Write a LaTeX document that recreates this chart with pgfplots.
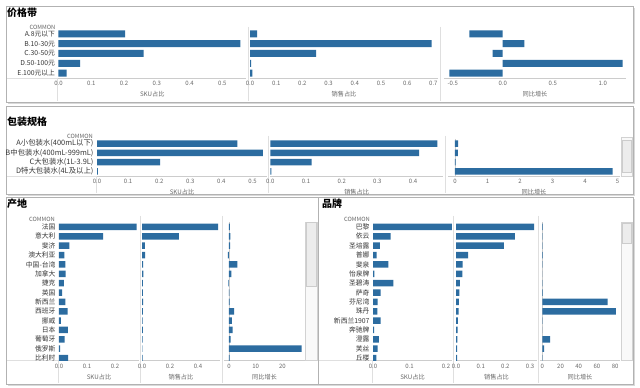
\documentclass[border=0pt]{standalone}
\usepackage{fontspec}
\setmainfont{Noto Sans CJK SC}
\usepackage{pgfplots}
\pgfplotsset{compat=1.18}
\definecolor{barc}{RGB}{44,108,160}
\definecolor{tk}{RGB}{105,105,105}
\definecolor{lab}{RGB}{55,55,55}
\pgfplotsset{
  dash/.style={
    scale only axis, anchor=south west, y dir=reverse, ymin=-0.5,
    axis x line*=bottom, axis y line*=left,
    x axis line style={draw=gray!40, line width=0.5pt},
    y axis line style={draw=none},
    tick style={draw=none},
    xticklabel style={font=\fontsize{6}{6}\selectfont, text=tk},
    yticklabel style={font=\fontsize{6.8}{7}\selectfont, text=lab},
    xlabel style={font=\fontsize{6.2}{7}\selectfont, text=tk, yshift=1.5pt},
    /pgf/number format/assume math mode=true,
    ytick=\empty,
  },
  dec/.style={xticklabel style={/pgf/number format/fixed, /pgf/number format/fixed zerofill, /pgf/number format/precision=1}},
  bb/.style={xbar, fill=barc, draw=none, bar width=#1},
}
\begin{document}
\begin{tikzpicture}
\begin{scope}[x=1pt,y=1pt]
\path[use as bounding box] (0,0) rectangle (640,388);
\fill[white] (0,0) rectangle (640,388);
% frames
\fill[gray!30] (8,{388-104}) rectangle (635,{388-8});
\draw[gray!60, fill=white] (6,{388-102}) rectangle (633,{388-6});
\fill[gray!30] (8,{388-196}) rectangle (635,{388-108});
\draw[gray!60, fill=white] (6,{388-194}) rectangle (633,{388-106});
\fill[gray!30] (8,{388-386}) rectangle (320,{388-199});
\draw[gray!60, fill=white] (6,{388-384}) rectangle (318,{388-197});
\fill[gray!30] (320,{388-386}) rectangle (635,{388-199});
\draw[gray!60, fill=white] (318,{388-384}) rectangle (633,{388-197});
% titles
\node[anchor=west, inner sep=0, font=\bfseries\fontsize{10}{10}\selectfont] at (7,{388-13}) {价格带};
\node[anchor=west, inner sep=0, font=\bfseries\fontsize{10}{10}\selectfont] at (7,{388-122}) {包装规格};
\node[anchor=west, inner sep=0, font=\bfseries\fontsize{10}{10}\selectfont] at (7,{388-204}) {产地};
\node[anchor=west, inner sep=0, font=\bfseries\fontsize{10}{10}\selectfont] at (322,{388-204}) {品牌};
% COMMON headers
\node[anchor=east, inner sep=0, font=\fontsize{5.8}{6}\selectfont, text=tk] at (55.5,{388-27.3}) {COMMON};
\node[anchor=east, inner sep=0, font=\fontsize{5.8}{6}\selectfont, text=tk] at (93,{388-136.7}) {COMMON};
\node[anchor=east, inner sep=0, font=\fontsize{5.8}{6}\selectfont, text=tk] at (55,{388-219}) {COMMON};
\node[anchor=east, inner sep=0, font=\fontsize{5.8}{6}\selectfont, text=tk] at (370,{388-219}) {COMMON};
% separators
\begin{scope}[gray!25, line width=0.5pt]
\draw (248,{388-27}) -- (248,{388-101});
\draw (440,{388-27}) -- (440,{388-101});
\draw (57.5,{388-78}) -- (57.5,{388-101});
\draw (7,{388-78}) -- (58.5,{388-78});
\draw (268.5,{388-136}) -- (268.5,{388-193});
\draw (445.5,{388-136}) -- (445.5,{388-193});
\draw (96,{388-176.1}) -- (96,{388-193});
\draw (7,{388-176.1}) -- (97,{388-176.1});
\draw (140.5,{388-216}) -- (140.5,{388-383});
\draw (222.5,{388-216}) -- (222.5,{388-383});
\draw (58,{388-360.5}) -- (58,{388-383});
\draw (7,{388-360.5}) -- (59,{388-360.5});
\draw (453.5,{388-216}) -- (453.5,{388-383});
\draw (538.5,{388-216}) -- (538.5,{388-383});
\draw (372,{388-360.5}) -- (372,{388-383});
\draw (319,{388-360.5}) -- (373,{388-360.5});
\end{scope}
% scrollbars
\draw[gray!35, fill=gray!5] (621,{388-176}) rectangle (632,{388-137});
\draw[gray!40, fill=gray!15] (622,{388-172}) rectangle (631,{388-140});
\draw[gray!35, fill=gray!5] (305,{388-360}) rectangle (317,{388-222});
\draw[gray!40, fill=gray!15] (306,{388-286}) rectangle (316,{388-222});
\draw[gray!35, fill=gray!5] (621,{388-360}) rectangle (632,{388-222});
\draw[gray!40, fill=gray!15] (622,{388-243}) rectangle (631,{388-223});
\end{scope}

% ===== Panel 1: 价格带 =====
\begin{axis}[dash, dec, at={(58.5pt,310pt)}, width=187.5pt, height=49pt, xmin=0, xmax=0.572, ymax=4.5,
  xtick={0,0.1,0.2,0.3,0.4,0.5}, ytick={0,1,2,3,4},
  yticklabels={A.8元以下,B.10-30元,C.30-50元,D.50-100元,E.100元以上}, xlabel={SKU占比}]
\addplot[bb=7pt] coordinates {(0.203,0) (0.555,1) (0.26,2) (0.066,3) (0.025,4)};
\end{axis}
\begin{axis}[dash, dec, at={(250pt,310pt)}, width=188pt, height=49pt, xmin=0, xmax=0.7176, ymax=4.5,
  xtick={0,0.1,0.2,0.3,0.4,0.5,0.6,0.7}, xlabel={销售占比}]
\addplot[bb=7pt] coordinates {(0.027,0) (0.693,1) (0.252,2) (0.004,3) (0.009,4)};
\end{axis}
\begin{axis}[dash, dec, at={(444pt,310pt)}, width=182pt, height=49pt, xmin=-0.587, xmax=1.233, ymax=4.5,
  xtick={-0.5,0,0.5,1}, xlabel={同比增长}]
\addplot[bb=7pt] coordinates {(-0.334,0) (0.216,1) (-0.10,2) (1.20,3) (-0.534,4)};
\end{axis}

% ===== Panel 2: 包装规格 =====
\begin{axis}[dash, dec, at={(97pt,211.9pt)}, width=170pt, height=37.2pt, xmin=0, xmax=0.5466, ymax=3.5,
  xtick={0,0.1,0.2,0.3,0.4,0.5}, ytick={0,1,2,3},
  yticklabel style={font=\fontsize{7.4}{7.5}\selectfont},
  yticklabels={A小包装水(400mL以下),B中包装水(400mL-999mL),C大包装水(1L-3.9L),D特大包装水(4L及以上)}, xlabel={SKU占比}]
\addplot[bb=6.5pt] coordinates {(0.451,0) (0.533,1) (0.203,2) (0.003,3)};
\end{axis}
\begin{axis}[dash, dec, at={(270.3pt,211.9pt)}, width=172.7pt, height=37.2pt, xmin=0, xmax=0.4838, ymax=3.5,
  xtick={0,0.1,0.2,0.3,0.4}, xlabel={销售占比}]
\addplot[bb=6.5pt] coordinates {(0.468,0) (0.417,1) (0.116,2) (0.003,3)};
\end{axis}
\begin{axis}[dash, at={(448pt,211.9pt)}, width=172pt, height=37.2pt, xmin=-0.215, xmax=5.077, ymax=3.5,
  xtick={0,1,2,3,4,5}, xlabel={同比增长}]
\draw[gray!40] (axis cs:0,-0.5) -- (axis cs:0,3.5);
\addplot[bb=6.5pt] coordinates {(0.10,0) (0.09,1) (0.02,2) (4.85,3)};
\end{axis}

% ===== Panel 3: 产地 =====
\begin{axis}[dash, dec, at={(59pt,27.5pt)}, width=80pt, height=138.2pt, xmin=0, xmax=0.2857, ymax=14.26,
  xtick={0,0.1,0.2}, ytick={0,...,14},
  yticklabels={法国,意大利,斐济,澳大利亚,中国-台湾,加拿大,捷克,英国,新西兰,西班牙,挪威,日本,葡萄牙,俄罗斯,比利时}, xlabel={SKU占比}]
\addplot[bb=6.5pt] coordinates {(0.277,0) (0.158,1) (0.037,2) (0.019,3) (0.023,4) (0.024,5) (0.017,6) (0.011,7) (0.023,8) (0.031,9) (0.007,10) (0.032,11) (0.020,12) (0.004,13) (0.033,14)};
\end{axis}
\begin{axis}[dash, dec, at={(142pt,27.5pt)}, width=78pt, height=138.2pt, xmin=0, xmax=0.557, ymax=14.26,
  xtick={0,0.2,0.4}, xlabel={销售占比}]
\addplot[bb=6.5pt] coordinates {(0.543,0) (0.264,1) (0.020,2) (0.022,3) (0.008,4) (0.009,5) (0.007,6) (0.006,7) (0.008,8) (0.007,9) (0.005,10) (0.006,11) (0.004,12) (0.003,13) (0.005,14)};
\end{axis}
\begin{axis}[dash, at={(224pt,27.5pt)}, width=81pt, height=138.2pt, xmin=-1.87, xmax=28.46, ymax=14.26,
  xtick={0,10,20}, xlabel={同比增长}]
\draw[gray!40] (axis cs:0,-0.5) -- (axis cs:0,14.26);
\addplot[bb=6.5pt] coordinates {(0.3,0) (0.5,1) (0.4,2) (-0.4,3) (3.1,4) (0.9,5) (-0.2,6) (0.1,7) (0.2,8) (1.9,9) (1.1,10) (1.4,11) (0.6,12) (27.2,13) (0.2,14)};
\end{axis}

% ===== Panel 4: 品牌 =====
\begin{axis}[dash, dec, at={(373pt,27.5pt)}, width=79pt, height=138.2pt, xmin=0, xmax=0.2164, ymax=14.26,
  xtick={0,0.1,0.2}, ytick={0,...,14},
  yticklabels={巴黎,依云,圣培露,普娜,斐泉,怡泉牌,圣碧涛,萨奇,芬尼湾,珠丹,新西兰1907,奔驰牌,澄露,芙丝,丘楼}, xlabel={SKU占比}]
\addplot[bb=6.5pt] coordinates {(0.216,0) (0.048,1) (0.019,2) (0.010,3) (0.042,4) (0.004,5) (0.056,6) (0.021,7) (0.013,8) (0.012,9) (0.021,10) (0.003,11) (0.016,12) (0.013,13) (0.009,14)};
\end{axis}
\begin{axis}[dash, dec, at={(456pt,27.5pt)}, width=81pt, height=138.2pt, xmin=0, xmax=0.328, ymax=14.26,
  xtick={0,0.1,0.2,0.3}, xlabel={销售占比}]
\addplot[bb=6.5pt] coordinates {(0.316,0) (0.238,1) (0.194,2) (0.049,3) (0.027,4) (0.026,5) (0.016,6) (0.014,7) (0.012,8) (0.011,9) (0.008,10) (0.007,11) (0.006,12) (0.005,13) (0.005,14)};
\end{axis}
\begin{axis}[dash, at={(540pt,27.5pt)}, width=80pt, height=138.2pt, xmin=-2.53, xmax=85.4, ymax=14.26,
  xtick={0,20,40,60,80}, xlabel={同比增长}]
\draw[gray!40] (axis cs:0,-0.5) -- (axis cs:0,14.26);
\addplot[bb=6.5pt] coordinates {(0.5,0) (0.3,1) (0.4,2) (0.6,3) (0.3,4) (0.2,5) (0.4,6) (0.5,7) (71.8,8) (80.9,9) (0.3,10) (0.2,11) (8.5,12) (1.9,13) (0.3,14)};
\end{axis}
\end{tikzpicture}
\end{document}
